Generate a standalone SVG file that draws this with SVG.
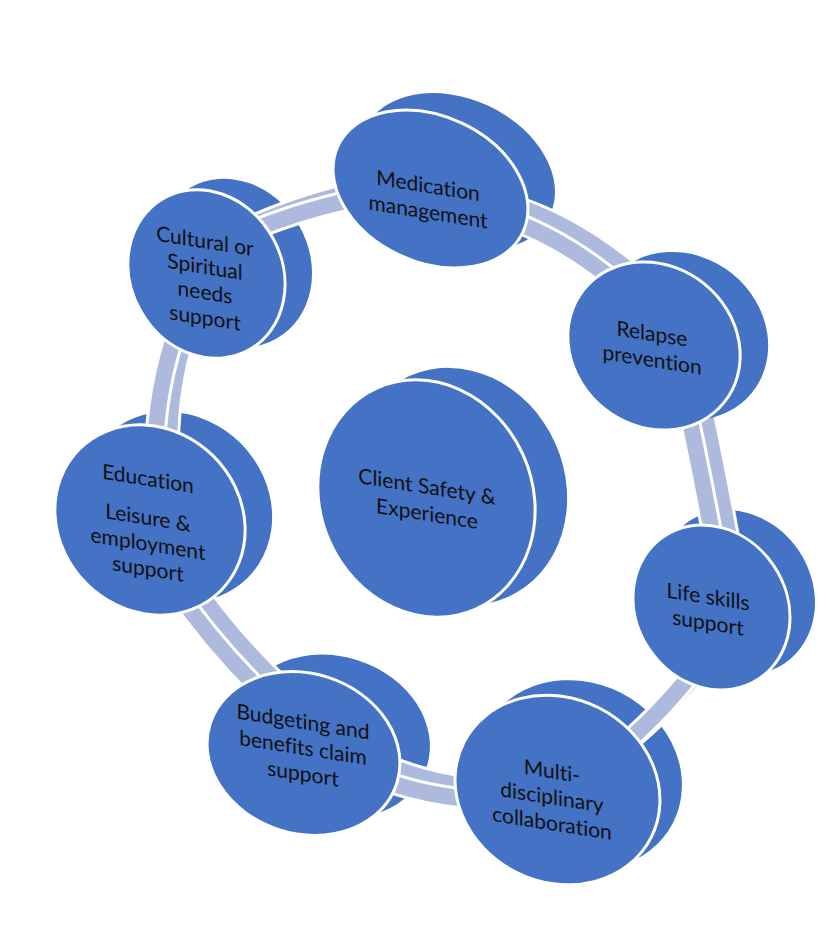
<svg xmlns="http://www.w3.org/2000/svg" xmlns:xlink="http://www.w3.org/1999/xlink" width="837" height="927" viewBox="0 0 837 927">
<style>
.back{fill:#4472C4;}
.front{fill:#4472C4;stroke:#FFFFFF;stroke-width:3;}
.cw{fill:none;stroke:#FFFFFF;stroke-width:22;}
.cc{fill:none;stroke:#AEBADD;stroke-width:16;}
.lbl{font-family:Lato,"Liberation Sans",sans-serif;font-size:21px;fill:#111111;text-anchor:middle;font-variant-ligatures:none;}
</style>
<defs>
<path id="p1" d="M235,238 Q293.5,211 370,196"/>
<path id="p2" d="M495,215 Q560,234 628,292"/>
<path id="p3" d="M682,385 Q700,465 718,565"/>
<path id="p4" d="M705,655 Q667.5,710 600,765"/>
<path id="p5" d="M490,800 Q426,798.5 370,775"/>
<path id="p6" d="M270,700 Q215,647.5 172,585"/>
<path id="p7" d="M155,460 Q154.5,390 180,320"/>
</defs>
<rect width="837" height="927" fill="#FFFFFF"/>
<g id="depth">
<ellipse class="back" cx="457.5" cy="172" rx="102" ry="73" transform="rotate(25 457.5 172)"/>
<ellipse class="back" cx="736.5" cy="592.5" rx="85.6" ry="75" transform="rotate(56 736.5 592.5)"/>
<ellipse class="back" cx="579.5" cy="775" rx="105" ry="92" transform="rotate(27 579.5 775)"/>
<ellipse class="back" cx="333.5" cy="736.5" rx="98" ry="80" transform="rotate(18 333.5 736.5)"/>
<ellipse class="back" cx="177" cy="507" rx="100" ry="90" transform="rotate(45 177 507)"/>
<ellipse class="back" cx="233.5" cy="263" rx="87" ry="75.5" transform="rotate(60 233.5 263)"/>
<ellipse class="back" cx="458.5" cy="486.5" rx="106" ry="121" transform="rotate(-24 458.5 486.5)"/>
</g>
<g id="connectors">
<g transform="translate(14,-11)">
<use xlink:href="#p1" class="cw"/><use xlink:href="#p1" class="cc"/>
<use xlink:href="#p2" class="cw"/><use xlink:href="#p2" class="cc"/>
<use xlink:href="#p3" class="cw"/><use xlink:href="#p3" class="cc"/>
<use xlink:href="#p4" class="cw"/><use xlink:href="#p4" class="cc"/>
<use xlink:href="#p5" class="cw"/><use xlink:href="#p5" class="cc"/>
<use xlink:href="#p6" class="cw"/><use xlink:href="#p6" class="cc"/>
<use xlink:href="#p7" class="cw"/><use xlink:href="#p7" class="cc"/>
</g>
<use xlink:href="#p1" class="cw"/><use xlink:href="#p1" class="cc"/>
<use xlink:href="#p2" class="cw"/><use xlink:href="#p2" class="cc"/>
<use xlink:href="#p3" class="cw"/><use xlink:href="#p3" class="cc"/>
<use xlink:href="#p4" class="cw"/><use xlink:href="#p4" class="cc"/>
<use xlink:href="#p5" class="cw"/><use xlink:href="#p5" class="cc"/>
<use xlink:href="#p6" class="cw"/><use xlink:href="#p6" class="cc"/>
<use xlink:href="#p7" class="cw"/><use xlink:href="#p7" class="cc"/>
</g>
<g id="medication">
<ellipse class="front" cx="430.5" cy="189" rx="102" ry="73" transform="rotate(25 430.5 189)"/>
<text class="lbl" transform="translate(428 199) skewY(9) translate(-428 -199)"><tspan x="428" y="193">Medication</tspan><tspan x="428" dy="26">management</tspan></text>
</g>
<g id="relapse">
<ellipse class="back" cx="682" cy="336" rx="90" ry="80" transform="rotate(39 682 336)"/>
<ellipse class="front" cx="654" cy="346" rx="90" ry="80" transform="rotate(39 654 346)"/>
<text class="lbl" transform="translate(652 347) skewY(9) translate(-652 -347)"><tspan x="652" y="341">Relapse</tspan><tspan x="652" dy="26">prevention</tspan></text>
</g>
<g id="lifeskills">
<ellipse class="front" cx="711.5" cy="607.5" rx="85.6" ry="75" transform="rotate(56 711.5 607.5)"/>
<text class="lbl" transform="translate(708 610) skewY(9) translate(-708 -610)"><tspan x="708" y="604">Life skills</tspan><tspan x="708" dy="26">support</tspan></text>
</g>
<g id="multidisciplinary">
<ellipse class="front" cx="557.5" cy="790" rx="105" ry="92" transform="rotate(27 557.5 790)"/>
<text class="lbl" transform="translate(552 797) skewY(9) translate(-552 -797)"><tspan x="552" y="778.5">Multi-</tspan><tspan x="552" dy="26">disciplinary</tspan><tspan x="552" dy="26">collaboration</tspan></text>
</g>
<g id="budgeting">
<ellipse class="front" cx="303.5" cy="753.5" rx="98" ry="80" transform="rotate(18 303.5 753.5)"/>
<text class="lbl" transform="translate(303 751) skewY(9) translate(-303 -751)"><tspan x="303" y="729">Budgeting and</tspan><tspan x="303" dy="26">benefits claim</tspan><tspan x="303" dy="26">support</tspan></text>
</g>
<g id="education">
<ellipse class="front" cx="150" cy="520" rx="100" ry="90" transform="rotate(45 150 520)"/>
<text class="lbl" transform="translate(148 523) skewY(9) translate(-148 -523)"><tspan x="148" y="486">Education</tspan><tspan x="148" dy="39">Leisure &amp;</tspan><tspan x="148" dy="26">employment</tspan><tspan x="148" dy="25">support</tspan></text>
</g>
<g id="cultural">
<ellipse class="front" cx="206.5" cy="274" rx="87" ry="75.5" transform="rotate(60 206.5 274)"/>
<text class="lbl" transform="translate(205 280) skewY(9) translate(-205 -280)"><tspan x="205" y="248.5">Cultural or</tspan><tspan x="205" dy="25.5">Spiritual</tspan><tspan x="205" dy="25.5">needs</tspan><tspan x="205" dy="25.5">support</tspan></text>
</g>
<g id="client">
<ellipse class="front" cx="426.5" cy="498.5" rx="106" ry="121" transform="rotate(-24 426.5 498.5)"/>
<text class="lbl" transform="translate(427 501) skewY(9) translate(-427 -501)"><tspan x="427" y="494">Client Safety &amp;</tspan><tspan x="427" dy="27">Experience</tspan></text>
</g>
</svg>
